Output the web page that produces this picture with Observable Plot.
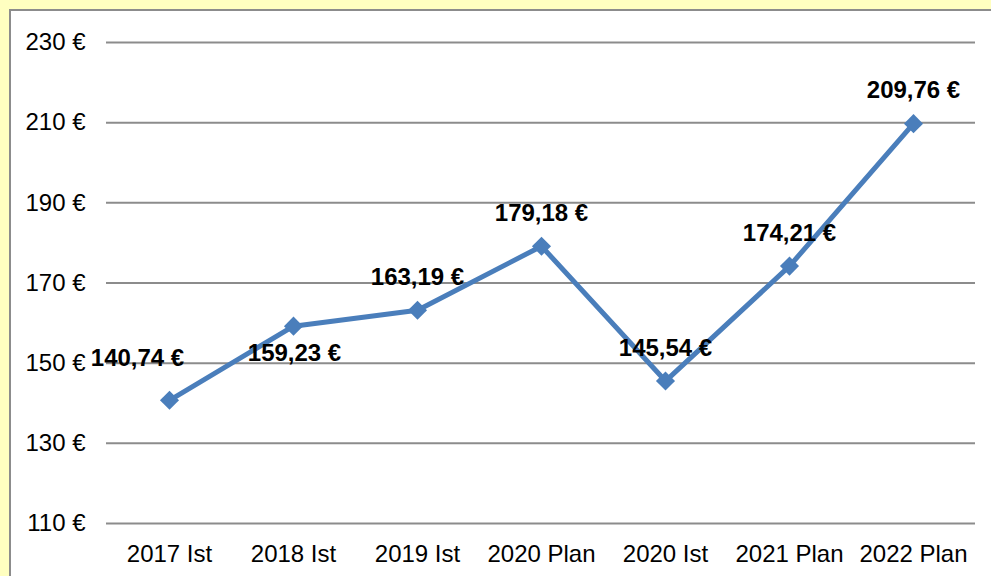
<!DOCTYPE html>
<html>
<head>
<meta charset="utf-8">
<script src="https://cdn.jsdelivr.net/npm/d3@7"></script>
<script src="https://cdn.jsdelivr.net/npm/@observablehq/plot@0.6"></script>
<style>
  html, body { margin: 0; padding: 0; width: 991px; height: 576px; overflow: hidden; background: #FFFFC0; }
  #panel { position: absolute; left: 9px; top: 9px; width: 1000px; height: 600px; background: #ffffff; border: 2px solid #8c8c8c; box-sizing: border-box; }
  #chart { position: absolute; left: 0; top: 0; }
</style>
</head>
<body>
<div id="panel"></div>
<div id="chart"></div>
<script>
const categories = ["2017 Ist", "2018 Ist", "2019 Ist", "2020 Plan", "2020 Ist", "2021 Plan", "2022 Plan"];
const values = [140.74, 159.23, 163.19, 179.18, 145.54, 174.21, 209.76];
const yTicks = [110, 130, 150, 170, 190, 210, 230];

const data = categories.map((c, i) => ({cat: c, value: values[i]}));
const fmt = v => v.toFixed(2).replace(".", ",") + " €";
const blue = "#4A7EBB";
const font = "Arial, 'Liberation Sans', sans-serif";

const special1 = data.filter(d => d.cat === "2017 Ist");
const special2 = data.filter(d => d.cat === "2018 Ist");
const normal = data.filter(d => d.cat !== "2017 Ist" && d.cat !== "2018 Ist");

const chart = Plot.plot({
  width: 991,
  height: 576,
  marginLeft: 106,
  marginRight: 16,
  marginTop: 42,
  marginBottom: 53,
  style: {background: "transparent", fontFamily: font, fontSize: "24px", color: "#000"},
  x: {type: "point", domain: categories, padding: 0.5, label: null},
  y: {domain: [110, 230], label: null},
  marks: [
    Plot.gridY(yTicks, {stroke: "#8c8c8c", strokeOpacity: 1, strokeWidth: 2}),
    Plot.axisY(yTicks, {tickSize: 0, tickPadding: 21, tickFormat: d => `${d} €`, fontSize: 24, label: null}),
    Plot.axisX({tickSize: 0, tickPadding: 21, fontSize: 24, label: null}),
    Plot.line(data, {x: "cat", y: "value", stroke: blue, strokeWidth: 5, strokeLinejoin: "miter"}),
    Plot.dot(data, {x: "cat", y: "value", symbol: "diamond2", r: 8.6, fill: blue, stroke: "none"}),
    Plot.text(normal, {x: "cat", y: "value", text: d => fmt(d.value), dy: -33, fontWeight: "bold", fontSize: 24, fill: "#000"}),
    Plot.text(special1, {x: "cat", y: "value", text: d => fmt(d.value), dx: -32, dy: -42, fontWeight: "bold", fontSize: 24, fill: "#000"}),
    Plot.text(special2, {x: "cat", y: "value", text: d => fmt(d.value), dx: 1, dy: 27, fontWeight: "bold", fontSize: 24, fill: "#000"})
  ]
});
document.getElementById("chart").appendChild(chart);
</script>
</body>
</html>
